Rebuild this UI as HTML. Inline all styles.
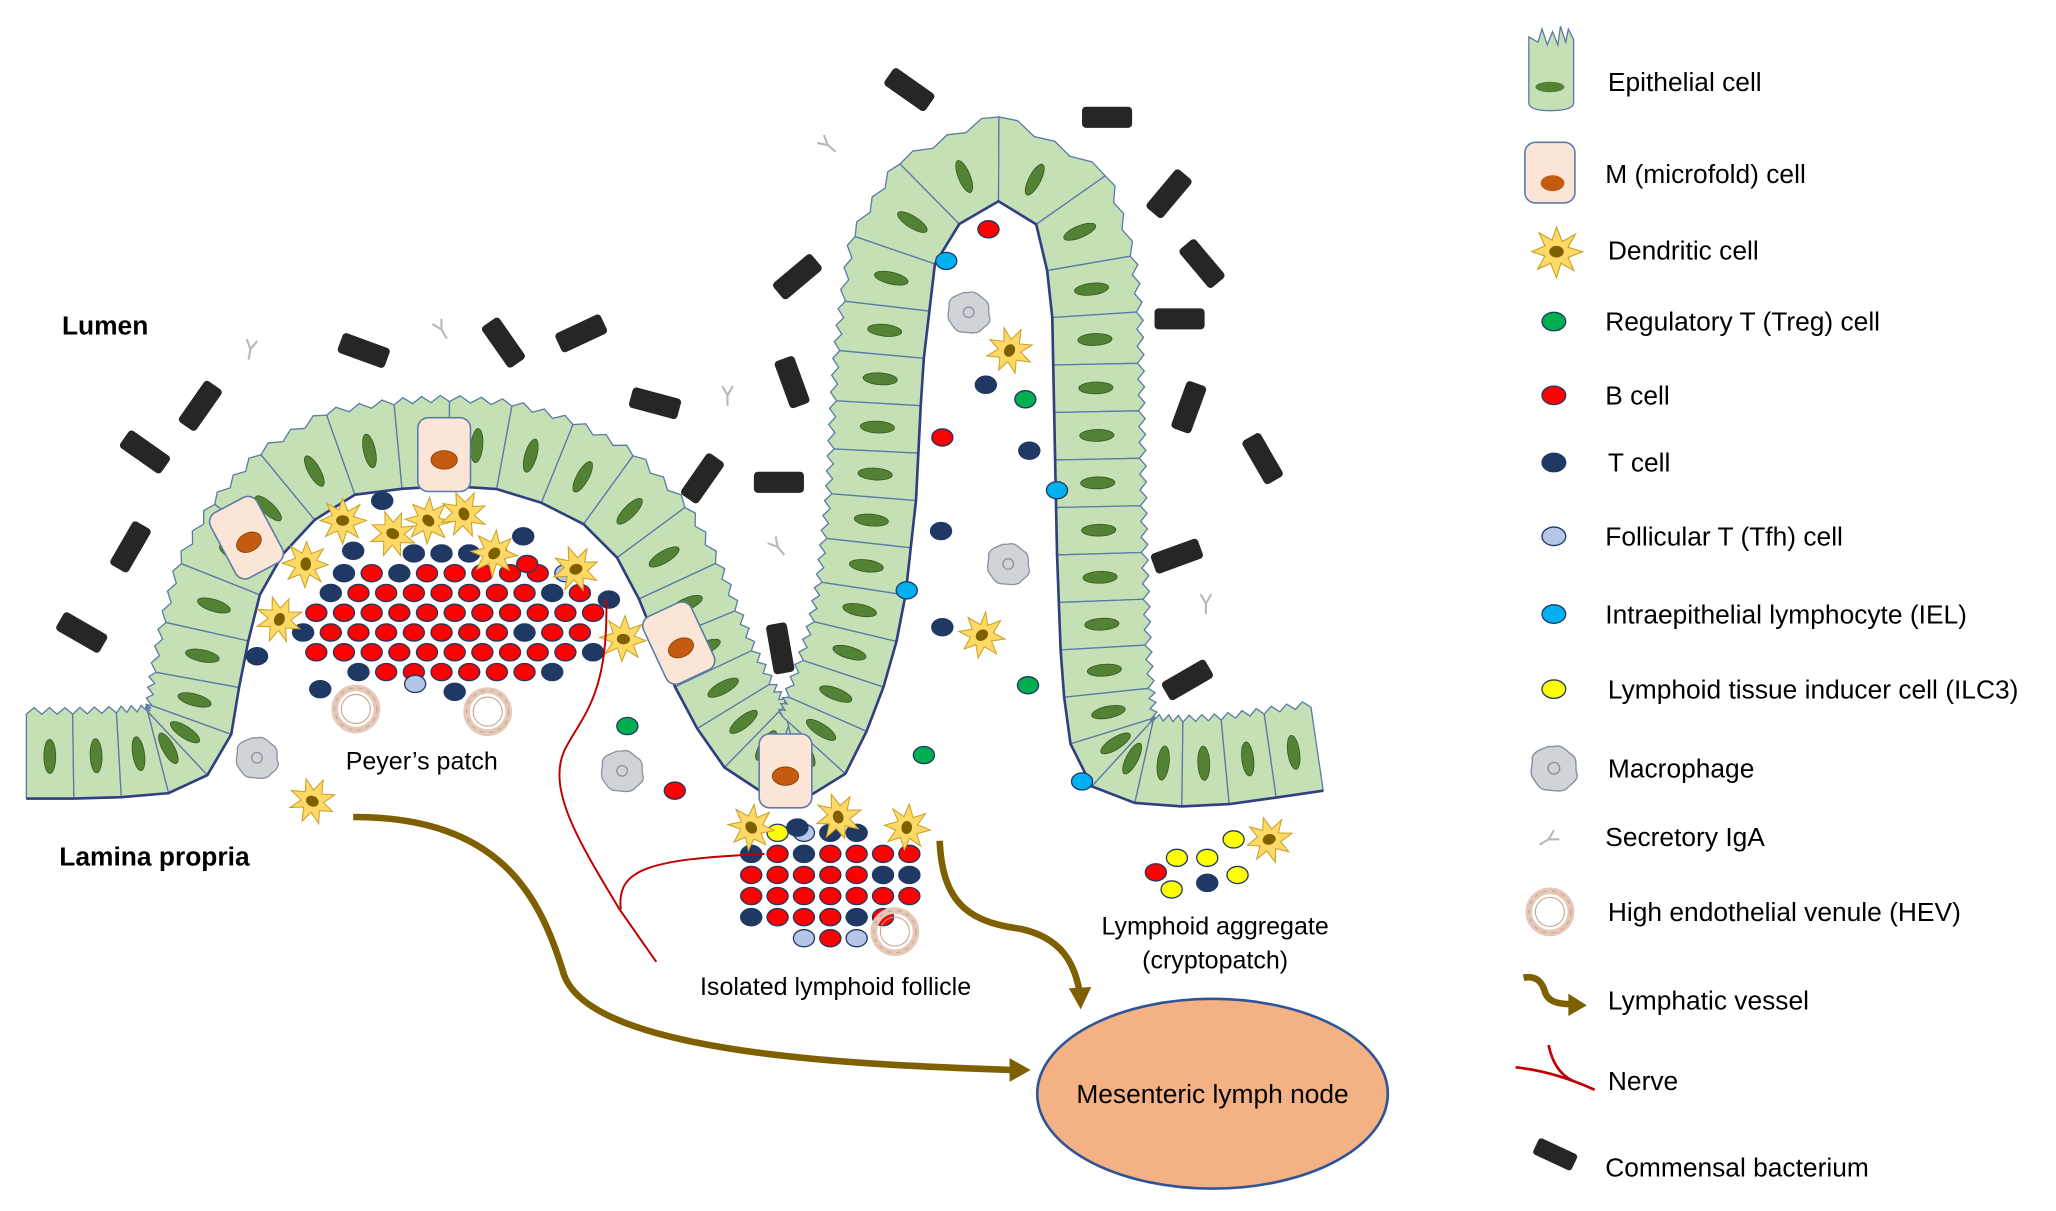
<!DOCTYPE html>
<html><head><meta charset="utf-8"><style>
html,body{margin:0;padding:0;background:#fff;}
svg{display:block;}
text{font-family:"Liberation Sans",Arial,sans-serif;fill:#000;}
</style></head><body>
<svg id="s" width="2056" height="1211" viewBox="0 0 1560 919" preserveAspectRatio="none" xmlns="http://www.w3.org/2000/svg">
<defs>
<g id="dc"><path d="M0,-17 L4,-7 L13,-12 L8,-3 L18,0 L8,4 L12,13 L3,8 L0,18 L-4,8 L-13,12 L-8,3 L-17,0 L-8,-4 L-12,-13 L-3,-8 Z" fill="#ffd966" stroke="#c9a227" stroke-width="0.8"/><ellipse rx="5" ry="4" fill="#7f6000"/></g>
<g id="mac"><path d="M0,-15 C6,-17 9,-11 13,-9 C17,-5 14,0 16,4 C17,9 11,11 9,14 C5,17 -1,15 -5,15 C-10,15 -12,10 -15,6 C-17,1 -14,-3 -15,-7 C-14,-12 -8,-13 -4,-15 Z" fill="#d0d3d8" stroke="#8c939c" stroke-width="1"/><circle r="4" fill="none" stroke="#8c939c" stroke-width="1"/></g>
<g id="hev"><circle r="16" fill="none" stroke="#e5c8b8" stroke-width="5"/><circle r="16" fill="none" stroke="#c9a08a" stroke-width="0.8" stroke-dasharray="3 4"/><circle r="11" fill="none" stroke="#c9a08a" stroke-width="0.8"/></g>
<g id="bac"><rect x="-19" y="-8" width="38" height="16" rx="3" fill="#262626"/></g>
<g id="iga" stroke="#b8b8b8" stroke-width="1.6" fill="none"><path d="M0,8 L0,0 M0,0 L-4,-7 M0,0 L4,-7"/></g>
</defs>
<g id="epi"></g>
<g id="misc"></g>

<path d="M268,620 C380,620 410,680 428,740 C450,800 650,808 768,812" fill="none" stroke="#7f6000" stroke-width="5"/>
<path d="M766,803 L782,812 L766,821 Z" fill="#7f6000"/>
<path d="M713,638 C715,690 740,700 775,705 C805,712 815,730 819,752" fill="none" stroke="#7f6000" stroke-width="5"/>
<path d="M811,750 L820,766 L828,749 Z" fill="#7f6000"/>
<path d="M498,730 L470,690 C440,640 415,600 428,570 C440,545 462,530 460,455" fill="none" stroke="#c00000" stroke-width="1.5"/>
<path d="M471,690 C468,660 490,652 580,648" fill="none" stroke="#c00000" stroke-width="1.5"/>

<ellipse cx="920" cy="830" rx="133" ry="72" fill="#f4b183" stroke="#2f5597" stroke-width="2"/>
<text x="920" y="837" font-size="20" text-anchor="middle">Mesenteric lymph node</text>

<text x="47" y="254" font-size="20" font-weight="bold">Lumen</text>
<text x="45" y="657" font-size="20" font-weight="bold">Lamina propria</text>
<text x="320" y="584" font-size="19" text-anchor="middle">Peyer’s patch</text>
<text x="634" y="755" font-size="19" text-anchor="middle">Isolated lymphoid follicle</text>
<text x="922" y="709" font-size="19" text-anchor="middle">Lymphoid aggregate</text>
<text x="922" y="735" font-size="19" text-anchor="middle">(cryptopatch)</text>

<g id="legend" font-size="20">
<text x="1220" y="69">Epithelial cell</text>
<text x="1218" y="139">M (microfold) cell</text>
<text x="1220" y="197">Dendritic cell</text>
<text x="1218" y="251">Regulatory T (Treg) cell</text>
<text x="1218" y="307">B cell</text>
<text x="1220" y="358">T cell</text>
<text x="1218" y="414">Follicular T (Tfh) cell</text>
<text x="1218" y="473">Intraepithelial lymphocyte (IEL)</text>
<text x="1220" y="530">Lymphoid tissue inducer cell (ILC3)</text>
<text x="1220" y="590">Macrophage</text>
<text x="1218" y="642">Secretory IgA</text>
<text x="1220" y="699">High endothelial venule (HEV)</text>
<text x="1220" y="766">Lymphatic vessel</text>
<text x="1220" y="827">Nerve</text>
<text x="1218" y="893">Commensal bacterium</text>
</g>
</svg>
<script>
(function(){
var NS="http://www.w3.org/2000/svg";
var epi=document.getElementById("epi"), misc=document.getElementById("misc"), svg=document.getElementById("s");
function el(p,tag,a){var e=document.createElementNS(NS,tag);for(var k in a)e.setAttribute(k,a[k]);p.appendChild(e);return e;}
var pts=[[20,606],[80,606],[150,600],[175,560],[185,500],[200,440],[230,400],[270,375],[330,368],[390,372],[440,395],[475,430],[495,480],[520,540],[555,590],[600,612],[640,590],[665,540],[685,470],[695,380],[700,280],[710,195],[735,160],[760,152],[785,165],[798,220],[800,320],[802,420],[805,500],[810,560],[830,600],[870,612],[920,612],[970,605],[1004,600]];
var L=[0];for(var i=1;i<pts.length;i++){L.push(L[i-1]+Math.hypot(pts[i][0]-pts[i-1][0],pts[i][1]-pts[i-1][1]));}
function at(d){for(var i=1;i<pts.length;i++){if(d<=L[i]){var t=(d-L[i-1])/(L[i]-L[i-1]);return[pts[i-1][0]+t*(pts[i][0]-pts[i-1][0]),pts[i-1][1]+t*(pts[i][1]-pts[i-1][1])];}}return pts[pts.length-1];}
var total=L[L.length-1],step=36,n=Math.round(total/step);step=total/n;
var bp=[];for(var k=0;k<=n;k++)bp.push(at(k*step));
function nrm(k){var a=bp[Math.max(0,k-1)],b=bp[Math.min(n,k+1)];var dx=b[0]-a[0],dy=b[1]-a[1],l=Math.hypot(dx,dy);return[dy/l,-dx/l];}
for(var k=0;k<n;k++){
 var p0=bp[k],p1=bp[k+1],n0=nrm(k),n1=nrm(k+1);
 var h=64;
 var a0=[p0[0]+n0[0]*h,p0[1]+n0[1]*h],a1=[p1[0]+n1[0]*h,p1[1]+n1[1]*h];
 var d="M"+p0+" L"+a0;
 for(var j=1;j<=6;j++){var t=j/6;var x=a0[0]+(a1[0]-a0[0])*t,y=a0[1]+(a1[1]-a0[1])*t;var m=(j%2)?5:0;var nn=[n0[0]+(n1[0]-n0[0])*t,n0[1]+(n1[1]-n0[1])*t];d+=" L"+(x+nn[0]*m)+","+(y+nn[1]*m);}
 d+=" L"+p1+" Z";
 el(epi,"path",{d:d,fill:"#c5e0b4",stroke:"#5b7ba8","stroke-width":"1"});
 var cx=(p0[0]+p1[0]+a0[0]+a1[0])/4,cy=(p0[1]+p1[1]+a0[1]+a1[1])/4;
 var ang=Math.atan2((n0[1]+n1[1]),(n0[0]+n1[0]))*180/Math.PI;
 el(epi,"ellipse",{cx:cx,cy:cy,rx:13,ry:4.5,fill:"#548235",stroke:"#385723","stroke-width":"0.6",transform:"rotate("+ang+" "+cx+" "+cy+")"});
}
var pd="M"+bp.map(function(p){return p.join(",")}).join(" L");
el(epi,"path",{d:pd,fill:"none",stroke:"#2f3f7f","stroke-width":"2"});
function mcell(p,x,y,r){var g=el(p,"g",{transform:"translate("+x+","+y+") rotate("+r+")"});el(g,"rect",{x:-20,y:-28,width:40,height:56,rx:8,fill:"#fbe5d6",stroke:"#5b7ba8","stroke-width":"1.2"});el(g,"ellipse",{cx:0,cy:4,rx:10,ry:7,fill:"#c55a11",stroke:"#7f3f00","stroke-width":"0.6"});}
mcell(misc,337,345,0);mcell(misc,187,408,-28);mcell(misc,515,488,-25);mcell(misc,596,585,0);
function use(id,x,y,r,s){el(misc,"use",{href:"#"+id,transform:"translate("+x+","+y+") rotate("+(r||0)+") scale("+(s||1)+")"});}
var bac=[[690,68,35],[840,89,0],[887,147,-50],[912,200,50],[895,242,0],[902,309,-70],[958,348,60],[893,422,-20],[901,516,-30],[605,210,-40],[601,290,70],[533,363,-55],[591,366,0],[497,306,15],[441,253,-25],[382,260,55],[276,266,20],[152,308,-55],[110,343,35],[99,415,-60],[62,480,30],[592,492,80]];
bac.forEach(function(b){use("bac",b[0],b[1],b[2]);});
[[628,110,-50],[190,265,10],[335,250,-30],[552,300,0],[590,415,-40],[915,458,0]].forEach(function(b){use("iga",b[0],b[1],b[2]);});
function cell(x,y,c){var f={r:"#ff0000",n:"#203864",t:"#b4c7e7",g:"#00b050",i:"#00b0f0",y:"#ffff00"}[c];el(misc,"ellipse",{cx:x,cy:y,rx:8,ry:6.5,fill:f,stroke:"#203864","stroke-width":"1"});}
var seed=7;function rnd(){seed=(seed*9301+49297)%233280;return seed/233280;}
for(var yy=420;yy<=525;yy+=15){for(var xx=230;xx<=460;xx+=21){var ox=xx+((yy/15)%2?10:0);var dx=(ox-345)/118,dy=(yy-470)/55;var d2=dx*dx+dy*dy;if(d2>1)continue;var r=rnd();var c=d2>0.75?(r<0.6?"n":(r<0.75?"t":"r")):(r<0.12?"n":"r");cell(ox,yy,c);}}
[[290,380,"n"],[268,418,"n"],[397,407,"n"],[400,428,"r"],[462,455,"n"],[195,498,"n"],[243,523,"n"],[315,519,"t"]].forEach(function(c){cell(c[0],c[1],c[2]);});
for(var yy=632;yy<=712;yy+=16){for(var xx=560;xx<=700;xx+=20){var ox=xx+((yy/16)%2?10:0);var dx=(ox-625)/75,dy=(yy-670)/45;var d2=dx*dx+dy*dy;if(d2>1)continue;var r=rnd();var c=d2>0.6?(r<0.45?"n":(r<0.7?"t":(r<0.85?"y":"r"))):(r<0.15?"n":"r");cell(ox,yy,c);}}
[[750,174,"r"],[715,332,"r"],[512,600,"r"],[748,292,"n"],[781,342,"n"],[714,403,"n"],[715,476,"n"],[605,628,"n"],[778,303,"g"],[780,520,"g"],[701,573,"g"],[476,551,"g"],[718,198,"i"],[802,372,"i"],[688,448,"i"],[821,593,"i"],
[893,651,"y"],[916,651,"y"],[936,637,"y"],[889,675,"y"],[939,664,"y"],[877,662,"r"],[916,670,"n"]].forEach(function(c){cell(c[0],c[1],c[2]);});
[[195,575],[472,585],[735,237],[765,428]].forEach(function(m){use("mac",m[0],m[1]);});
[[270,538],[370,540],[679,707]].forEach(function(m){use("hev",m[0],m[1]);});
[[260,395],[298,405],[325,395],[352,390],[232,428],[212,470],[375,420],[437,432],[473,485],[237,608],[570,628],[636,620],[688,628],[766,266],[745,482],[963,637]].forEach(function(m,i){use("dc",m[0],m[1],i*23);});
var lg=el(svg,"g",{});
el(lg,"path",{d:"M1160,28 L1160,78 Q1160,84 1176,84 Q1194,84 1194,78 L1194,30 L1190,22 L1188,32 L1184,20 L1182,34 L1178,24 L1174,34 L1170,22 L1167,32 Z",fill:"#c5e0b4",stroke:"#5b7ba8","stroke-width":"1"});
el(lg,"ellipse",{cx:1176,cy:66,rx:11,ry:4,fill:"#548235"});
el(lg,"rect",{x:1157,y:108,width:38,height:46,rx:8,fill:"#fbe5d6",stroke:"#5b7ba8","stroke-width":"1.2"});
el(lg,"ellipse",{cx:1178,cy:139,rx:9,ry:6,fill:"#c55a11"});
el(lg,"use",{href:"#dc",transform:"translate(1181,191) scale(1.1)"});
[[244,"#00b050"],[300,"#ff0000"],[351,"#203864"],[407,"#b4c7e7"],[466,"#00b0f0"],[523,"#ffff00"]].forEach(function(c){el(lg,"ellipse",{cx:1179,cy:c[0],rx:9,ry:7,fill:c[1],stroke:"#203864","stroke-width":"1"});});
el(lg,"use",{href:"#mac",transform:"translate(1179,583) scale(1.1)"});
el(lg,"use",{href:"#iga",transform:"translate(1175,637) rotate(60)"});
el(lg,"use",{href:"#hev",transform:"translate(1176,692)"});
el(lg,"path",{d:"M1156,742 C1165,740 1170,745 1172,752 C1174,760 1182,762 1192,762",fill:"none",stroke:"#7f6000","stroke-width":"5"});
el(lg,"path",{d:"M1190,754 L1204,763 L1190,771 Z",fill:"#7f6000"});
el(lg,"path",{d:"M1150,810 C1170,812 1190,818 1210,827 M1175,793 C1178,808 1185,818 1198,822",fill:"none",stroke:"#c00000","stroke-width":"2"});
el(lg,"use",{href:"#bac",transform:"translate(1180,876) rotate(25) scale(0.85)"});
})();
</script>
</body></html>
